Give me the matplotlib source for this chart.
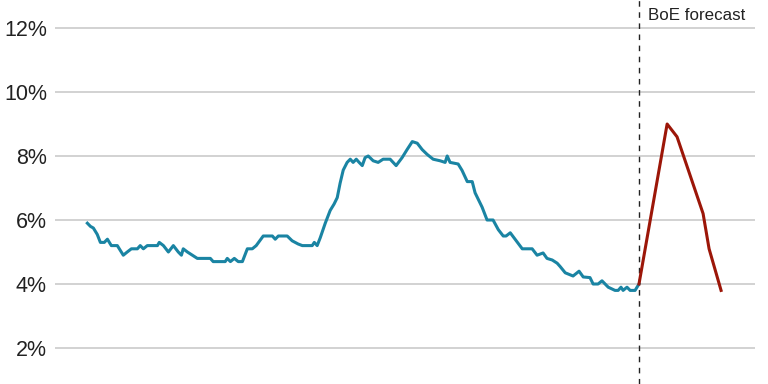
import matplotlib
matplotlib.use("Agg")
import matplotlib.pyplot as plt
from matplotlib.ticker import FuncFormatter

plt.rcParams["font.family"] = ["Liberation Sans", "DejaVu Sans"]

# Unemployment rate, decimal years
actual_years = [
    1999.00, 1999.12, 1999.23, 1999.38, 1999.50, 1999.65, 1999.77, 1999.92,
    2000.15, 2000.38, 2000.53, 2000.69, 2000.92, 2001.03, 2001.15, 2001.30,
    2001.69, 2001.76, 2001.92, 2002.11, 2002.30, 2002.49, 2002.61, 2002.68,
    2002.84, 2003.03, 2003.22, 2003.72, 2003.83, 2004.29, 2004.37, 2004.49,
    2004.64, 2004.79, 2004.95, 2005.14, 2005.33, 2005.48, 2005.75, 2006.10,
    2006.21, 2006.33, 2006.67, 2006.86, 2007.09, 2007.25, 2007.63, 2007.71,
    2007.82, 2007.94, 2008.13, 2008.32, 2008.47, 2008.59, 2008.70, 2008.82,
    2008.97, 2009.09, 2009.20, 2009.32, 2009.43, 2009.55, 2009.66, 2009.78,
    2009.97, 2010.16, 2010.35, 2010.62, 2010.85, 2011.08, 2011.27, 2011.47,
    2011.66, 2011.85, 2012.04, 2012.27, 2012.54, 2012.73, 2012.81, 2012.92,
    2013.23, 2013.38, 2013.58, 2013.77, 2013.88, 2014.15, 2014.34, 2014.57,
    2014.77, 2014.96, 2015.07, 2015.23, 2015.46, 2015.69, 2016.07, 2016.26,
    2016.49, 2016.64, 2016.84, 2017.03, 2017.14, 2017.34, 2017.64, 2017.87,
    2018.03, 2018.29, 2018.41, 2018.60, 2018.75, 2018.99, 2019.25, 2019.37,
    2019.48, 2019.56, 2019.71, 2019.83, 2020.02, 2020.17,
]
actual_rate = [
    5.9, 5.8, 5.75, 5.55, 5.3, 5.3, 5.4, 5.2,
    5.2, 4.9, 5.0, 5.1, 5.1, 5.2, 5.1, 5.2,
    5.2, 5.3, 5.2, 5.0, 5.2, 5.0, 4.9, 5.1,
    5.0, 4.9, 4.8, 4.8, 4.7, 4.7, 4.8, 4.7,
    4.8, 4.7, 4.7, 5.1, 5.1, 5.2, 5.5, 5.5,
    5.4, 5.5, 5.5, 5.35, 5.25, 5.2, 5.2, 5.3,
    5.2, 5.45, 5.9, 6.3, 6.5, 6.7, 7.15, 7.56,
    7.8, 7.9, 7.8, 7.9, 7.8, 7.7, 7.95, 8.0,
    7.85, 7.8, 7.9, 7.9, 7.7, 7.95, 8.2, 8.45,
    8.4, 8.2, 8.05, 7.9, 7.85, 7.8, 8.0, 7.8,
    7.75, 7.55, 7.2, 7.2, 6.85, 6.4, 6.0, 6.0,
    5.7, 5.5, 5.5, 5.6, 5.35, 5.1, 5.1, 4.9,
    4.97, 4.8, 4.75, 4.65, 4.55, 4.35, 4.25, 4.4,
    4.22, 4.2, 4.0, 4.0, 4.1, 3.9, 3.8, 3.8,
    3.9, 3.8, 3.9, 3.8, 3.8, 4.0,
]

forecast_years = [2020.17, 2021.25, 2021.63, 2022.63, 2022.86, 2023.09, 2023.32]
forecast_rate = [4.0, 9.0, 8.6, 6.2, 5.1, 4.45, 3.8]

forecast_start = 2020.17
y_ticks = [2, 4, 6, 8, 10, 12]

fig = plt.figure(figsize=(7.68, 3.84), dpi=100)
ax = fig.add_axes([0.072, 0.0, 0.911, 1.0])

for t in y_ticks:
    ax.axhline(t, color="#cbcbcb", linewidth=1.2, zorder=1)

ax.plot(actual_years, actual_rate, color="#1a84a3", linewidth=2.2,
        solid_joinstyle="round", zorder=3)
ax.plot(forecast_years, forecast_rate, color="#9c1608", linewidth=2.2,
        solid_joinstyle="round", zorder=3)

ax.axvline(forecast_start, color="#222222", linewidth=1.0,
           linestyle=(0, (4, 4)), zorder=2)
ax.text(forecast_start + 0.35, 12.38, "BoE forecast", fontsize=12.2,
        color="#222222", ha="left", va="center")

ax.set_xlim(1997.77, 2024.62)
ax.set_ylim(0.875, 12.875)
ax.set_yticks(y_ticks)
ax.yaxis.set_major_formatter(FuncFormatter(lambda v, p: f"{v:.0f}%"))
ax.tick_params(axis="y", length=0, pad=6, labelsize=15.5, labelcolor="#222222")
ax.set_xticks([])
for s in ax.spines.values():
    s.set_visible(False)

fig.savefig("out.png", dpi=100)
